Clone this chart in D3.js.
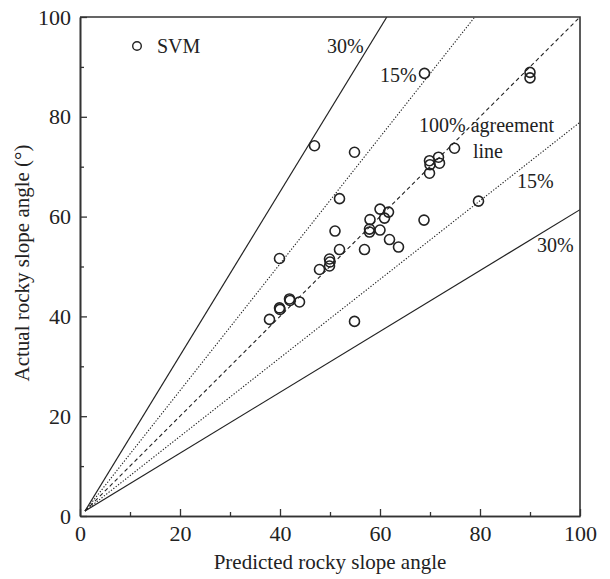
<!DOCTYPE html>
<html>
<head>
<meta charset="utf-8">
<script src="https://cdn.jsdelivr.net/npm/d3@7"></script>
<style>
  body { margin: 0; background: #fff; }
  text { font-family: "Liberation Serif", "DejaVu Serif", serif; fill: #222; }
</style>
</head>
<body>
<div id="chart"></div>
<script>
// data
var predicted = [37.9, 39.9, 40.0, 41.9, 42.0, 43.9, 39.9, 46.9, 47.9, 49.9,
                 50.0, 49.9, 51.9, 51.0, 51.9, 54.9, 54.9, 56.9, 58.0, 57.9,
                 57.9, 60.0, 61.7, 60.9, 60.0, 61.9, 63.7, 68.8, 69.9, 71.7,
                 71.9, 69.9, 70.0, 74.9, 68.9, 79.7, 90.0, 90.0];
var actual    = [39.4, 41.7, 41.4, 43.5, 43.2, 42.9, 51.6, 74.2, 49.4, 51.5,
                 50.9, 50.1, 53.4, 57.1, 63.6, 72.9, 39.0, 53.4, 59.4, 57.5,
                 56.9, 61.5, 60.9, 59.7, 57.3, 55.4, 53.9, 59.3, 71.2, 71.9,
                 70.7, 68.7, 70.4, 73.7, 88.7, 63.1, 88.9, 87.8];
var xTicks = [0, 20, 40, 60, 80, 100];
var yTicks = [0, 20, 40, 60, 80, 100];
var minorTicks = [10, 30, 50, 70, 90];
// reference lines: slope of each line, starting near the origin
var lineSlopes = [1.64, 1.27, 1.0, 0.787, 0.61];
var lineKinds  = ["solid", "dot", "dash", "dot", "solid"];

var W = 610, H = 579;
var pL = 80, pR = 580, pT = 17, pB = 516;

var svg = d3.select("#chart").append("svg")
    .attr("width", W)
    .attr("height", H);

var x = d3.scaleLinear().domain([0, 100]).range([pL, pR]);
var y = d3.scaleLinear().domain([0, 100]).range([pB, pT]);

//clip for the reference lines
svg.append("clipPath").attr("id", "plot")
  .append("rect")
    .attr("x", pL).attr("y", pT)
    .attr("width", pR - pL).attr("height", pB - pT);

//reference lines
var dashes = { solid: null, dot: "1.3,1.7", dash: "4,3" };
var refs = svg.append("g").attr("clip-path", "url(#plot)");
lineSlopes.forEach(function(k, i) {
    var x1 = Math.min(100, 1 + 99 / k);
    var pts = [[1, 1], [x1, 1 + k * (x1 - 1)]];
    refs.append("path")
        .attr("d", d3.line().x(function(d) { return x(d[0]); }).y(function(d) { return y(d[1]); })(pts))
        .attr("fill", "none")
        .attr("stroke", "#222")
        .attr("stroke-width", lineKinds[i] == "solid" ? 1.2 : 1.1)
        .attr("stroke-dasharray", dashes[lineKinds[i]]);
});

//points
svg.append("g").selectAll("circle")
    .data(predicted)
    .enter().append("circle")
    .attr("cx", function(d) { return x(d); })
    .attr("cy", function(d, i) { return y(actual[i]); })
    .attr("r", 5)
    .attr("fill", "none")
    .attr("stroke", "#222")
    .attr("stroke-width", 1.6);

//axes, ticks point inward
var xAxis = svg.append("g")
    .attr("transform", "translate(0," + pB + ")")
    .call(d3.axisBottom(x).tickValues(xTicks).tickSizeInner(-7).tickSizeOuter(0));
var yAxis = svg.append("g")
    .attr("transform", "translate(" + pL + ",0)")
    .call(d3.axisLeft(y).tickValues(yTicks).tickSizeInner(-7).tickSizeOuter(0).tickPadding(9));
svg.append("g")
    .attr("transform", "translate(0," + pB + ")")
    .call(d3.axisBottom(x).tickValues(minorTicks).tickSizeInner(-4).tickSizeOuter(0).tickFormat(""));
svg.append("g")
    .attr("transform", "translate(" + pL + ",0)")
    .call(d3.axisLeft(y).tickValues(minorTicks).tickSizeInner(-4).tickSizeOuter(0).tickFormat(""));

svg.selectAll(".domain").attr("stroke", "#333").attr("stroke-width", 1.6);
svg.selectAll(".tick line").attr("stroke", "#333").attr("stroke-width", 1.3);
svg.selectAll(".tick text").style("font-size", "22px").attr("fill", "#222");
xAxis.selectAll(".tick text").attr("y", 25).attr("dy", null);

//top and right frame
svg.append("path")
    .attr("d", "M" + pL + "," + pT + "H" + pR + "V" + pB)
    .attr("fill", "none")
    .attr("stroke", "#333")
    .attr("stroke-width", 1.6);

//axis titles
svg.append("text")
    .attr("x", (pL + pR) / 2)
    .attr("y", 569)
    .attr("text-anchor", "middle")
    .style("font-size", "21px")
    .text("Predicted rocky slope angle");
svg.append("text")
    .attr("transform", "translate(29,263) rotate(-90)")
    .attr("text-anchor", "middle")
    .style("font-size", "21px")
    .text("Actual rocky slope angle (°)");

//legend
svg.append("circle")
    .attr("cx", 137).attr("cy", 46).attr("r", 4.3)
    .attr("fill", "none").attr("stroke", "#222").attr("stroke-width", 1.4);
svg.append("text")
    .attr("x", 157).attr("y", 53)
    .style("font-size", "20px")
    .text("SVM");

//line labels
var labels = [
    { t: "30%", x: 327, y: 53 },
    { t: "15%", x: 380, y: 82 },
    { t: "100% agreement", x: 419, y: 132 },
    { t: "line", x: 473, y: 158 },
    { t: "15%", x: 517, y: 188 },
    { t: "30%", x: 537, y: 252 }
];
svg.append("g").selectAll("text")
    .data(labels)
    .enter().append("text")
    .attr("x", function(d) { return d.x; })
    .attr("y", function(d) { return d.y; })
    .style("font-size", "20px")
    .text(function(d) { return d.t; });
</script>
</body>
</html>
